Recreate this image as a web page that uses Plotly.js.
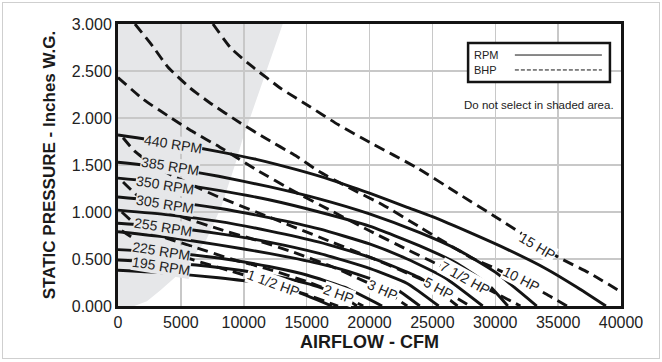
<!DOCTYPE html>
<html><head><meta charset="utf-8">
<script src="https://cdn.plot.ly/plotly-3.0.1.min.js"></script>
<style>
html,body{margin:0;padding:0;background:#fff}
#wrap{position:relative;width:662px;height:362px}
#chart{width:662px;height:362px}
#frame{position:absolute;left:2px;top:2px;width:656px;height:355px;border:1px solid #cfcfcf;pointer-events:none}
</style>
</head><body><div id="wrap"><div id="chart"></div><div id="frame"></div></div>
<script>
// ---- data (CFM, static pressure in. W.G.) ----
const shadeCfm = [0,1300,2300,3400,4500,6000,7000,8200,9300,9900,10500,11800,13100,0];
const shadeSp  = [0,0,0.05,0.17,0.30,0.53,0.70,1.05,1.50,1.77,2.00,2.50,3.00,3.00];

// RPM curves (solid)
const rpm440 = [[0,1.82],[4000,1.74],[8100,1.64],[11000,1.56],[14200,1.45],[17000,1.34],[20000,1.20],[23000,1.05],[25000,0.95],[28000,0.78],[31000,0.60],[34000,0.40],[36500,0.20],[38800,0]];
const rpm385 = [[0,1.53],[4000,1.47],[8000,1.38],[12000,1.27],[16000,1.14],[20000,0.98],[24000,0.78],[27000,0.60],[30000,0.36],[33300,0]];
const rpm350 = [[0,1.36],[4000,1.31],[8000,1.23],[12000,1.13],[16000,1.00],[20000,0.85],[24000,0.64],[27000,0.45],[29500,0.22],[31000,0]];
const rpm305 = [[0,1.16],[4000,1.11],[8000,1.04],[12000,0.94],[16000,0.82],[20000,0.66],[23000,0.50],[26000,0.30],[29000,0]];
const rpmA   = [[0,1.02],[4000,0.97],[8000,0.90],[12000,0.80],[16000,0.68],[20000,0.52],[24000,0.30],[27000,0]];
const rpm255 = [[0,0.88],[4000,0.84],[8000,0.77],[12000,0.68],[16000,0.56],[20000,0.40],[23000,0.24],[25500,0]];
const rpmB   = [[0,0.79],[4000,0.73],[8000,0.65],[12000,0.56],[16000,0.45],[19000,0.34],[22000,0.19],[24000,0]];
const rpm225 = [[0,0.60],[4000,0.57],[8000,0.51],[12000,0.42],[15000,0.33],[18000,0.20],[21000,0]];
const rpm195 = [[0,0.49],[4000,0.46],[8000,0.41],[12000,0.33],[15000,0.24],[17500,0.13],[19000,0]];
const rpmC   = [[0,0.38],[4000,0.35],[8000,0.30],[11000,0.25],[14000,0.16],[17000,0]];

// BHP curves (dashed)
const hp15 = [[7550,3.00],[9000,2.74],[10740,2.54],[13000,2.31],[15270,2.12],[17500,1.93],[20040,1.74],[23780,1.47],[27000,1.20],[30000,0.95],[32000,0.78],[35000,0.52],[37500,0.35],[40000,0.15]];
const hp10 = [[1350,3.00],[2780,2.76],[3980,2.54],[5730,2.32],[7320,2.16],[9700,1.95],[11530,1.80],[14230,1.59],[16000,1.43],[18500,1.25],[21000,1.08],[24000,0.84],[28000,0.52],[30000,0.40],[32000,0.27],[34000,0.13],[35700,0]];
const hp75 = [[0,2.43],[2000,2.20],[4000,2.02],[6000,1.85],[8100,1.69],[11000,1.45],[14000,1.22],[17000,1.01],[20000,0.80],[23000,0.60],[25000,0.47],[27600,0.30],[30000,0.14],[32000,0]];
const hp5  = [[400,1.79],[1300,1.65],[2460,1.53],[4000,1.41],[6000,1.28],[8000,1.16],[11000,1.00],[14000,0.84],[17000,0.68],[20000,0.52],[23000,0.35],[25450,0.20],[28000,0]];
const hp3  = [[400,1.32],[1500,1.18],[3000,1.06],[5000,0.95],[8000,0.82],[11000,0.70],[14000,0.57],[17000,0.42],[19000,0.30],[21070,0.17],[23000,0]];
const hp2  = [[300,1.00],[1500,0.86],[3500,0.74],[6000,0.63],[9000,0.50],[12000,0.39],[15000,0.26],[17570,0.13],[19500,0]];
const hp15b= [[300,0.80],[1500,0.70],[3500,0.60],[6000,0.49],[9000,0.37],[12330,0.24],[15000,0.12],[17500,0]];

// label texts and their anchor points on the curves
const rpmLabels = ['440 RPM','385 RPM','350 RPM','305 RPM','255 RPM','225 RPM','195 RPM'];
const rpmLabelCfm = [4370,4130,3740,3740,3580,3420,3420];
const rpmLabelSp  = [1.72,1.49,1.29,1.09,0.84,0.58,0.43];
const hpLabels = ['15 HP','10 HP','7 1/2 HP','5 HP','3 HP','2 HP','1 1/2 HP'];
const hpLabelCfm = [33320,32050,27600,25450,21070,17570,12330];
const hpLabelSp  = [0.64,0.29,0.30,0.19,0.17,0.13,0.24];
const hpLabelAngle = [31,27,29,28,24,20,20];

const xTickVals = [0,5000,10000,15000,20000,25000,30000,35000,40000];
const yTickVals = [0,0.5,1,1.5,2,2.5,3];

// ---- drawing ----
const FONT = 'Liberation Sans, Arial, Helvetica, sans-serif';
const INK = '#141414';
function curve(pts, dashed){
  return {x: pts.map(p=>p[0]), y: pts.map(p=>p[1]), type:'scatter', mode:'lines',
    line:{color:INK, width:2.9, dash: dashed ? '11px,6px' : 'solid', shape:'spline', smoothing:0.5},
    hoverinfo:'skip', showlegend:false};
}
const solids = [rpm440,rpm385,rpm350,rpm305,rpmA,rpm255,rpmB,rpm225,rpm195,rpmC];
const dashes = [hp15,hp10,hp75,hp5,hp3,hp2,hp15b];
const traces = solids.map(c=>curve(c,false)).concat(dashes.map(c=>curve(c,true)));

let shadePath = '';
shadeCfm.forEach((c,i)=>{ shadePath += (i===0?'M':'L') + c + ',' + shadeSp[i] + ' '; });
shadePath += 'Z';

const annotations = [];
rpmLabels.forEach((t,i)=>annotations.push({x:rpmLabelCfm[i], y:rpmLabelSp[i], xref:'x', yref:'y', text:t,
  showarrow:false, textangle:9, bgcolor:'#e6e7e9', borderpad:0, font:{family:FONT,size:14,color:'#222'}}));
hpLabels.forEach((t,i)=>annotations.push({x:hpLabelCfm[i], y:hpLabelSp[i], xref:'x', yref:'y', text:t,
  showarrow:false, textangle:hpLabelAngle[i], bgcolor:'#ffffff', borderpad:0, font:{family:FONT,size:14,color:'#222'}}));
annotations.push({xref:'paper', yref:'paper', x:0.704, y:0.890, xanchor:'left', yanchor:'middle', text:'RPM', showarrow:false, font:{family:FONT,size:11,color:'#222'}});
annotations.push({xref:'paper', yref:'paper', x:0.704, y:0.837, xanchor:'left', yanchor:'middle', text:'BHP', showarrow:false, font:{family:FONT,size:11,color:'#222'}});
annotations.push({xref:'paper', yref:'paper', x:0.837, y:0.713, xanchor:'center', yanchor:'middle', text:'Do not select in shaded area.', showarrow:false, font:{family:FONT,size:11.5,color:'#222'}});

const shapes = [
  {type:'path', path:shadePath, xref:'x', yref:'y', fillcolor:'#e6e7e9', line:{width:0}, layer:'below'},
  {type:'rect', xref:'paper', yref:'paper', x0:0.696, x1:0.978, y0:0.794, y1:0.933, fillcolor:'#ffffff', line:{color:INK, width:2.5}, layer:'above'},
  {type:'line', xref:'paper', yref:'paper', x0:0.789, x1:0.962, y0:0.890, y1:0.890, line:{color:INK, width:1}},
  {type:'line', xref:'paper', yref:'paper', x0:0.789, x1:0.962, y0:0.837, y1:0.837, line:{color:INK, width:1, dash:'4px,2px'}}
];

const axisCommon = {showgrid:true, gridcolor:'#c8c8c8', gridwidth:1.5, zeroline:false, showline:true,
  linecolor:INK, linewidth:3, mirror:true, ticks:'', tickfont:{family:FONT,size:16,color:'#222'}};

const layout = {
  width:662, height:362, margin:{l:118, r:41, t:24, b:56},
  paper_bgcolor:'#ffffff', plot_bgcolor:'#ffffff',
  font:{family:FONT},
  xaxis: Object.assign({}, axisCommon, {range:[0,40000], tickvals:xTickVals, tickformat:'d',
    title:{text:'<b>AIRFLOW - CFM</b>', font:{family:FONT,size:18,color:'#1a1a1a'}, standoff:6}}),
  yaxis: Object.assign({}, axisCommon, {range:[0,3], tickvals:yTickVals, tickformat:'.3f',
    title:{text:'<b>STATIC PRESSURE - Inches W.G.</b>', font:{family:FONT,size:17,color:'#1a1a1a'}, standoff:12}}),
  shapes: shapes, annotations: annotations, showlegend:false
};
Plotly.newPlot('chart', traces, layout, {displayModeBar:false, staticPlot:true});
</script></body></html>
